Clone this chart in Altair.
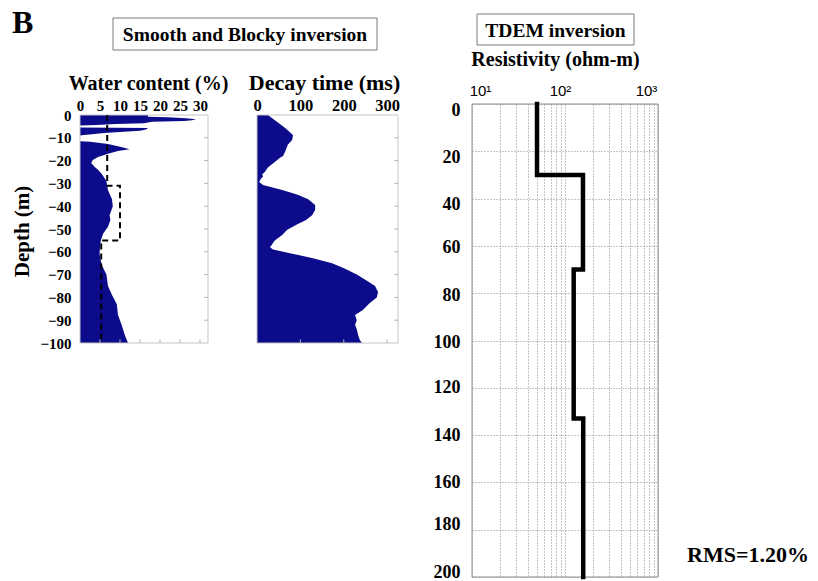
import altair as alt
import pandas as pd

SERIF = "Liberation Serif"
SANS = "Liberation Sans"
NAVY = "#0b0b8c"

# ---- Smooth inversion: water content (%) vs depth (m, negative downwards)
wc_depth = [0, -0.8, -1.0, -1.4, -1.9, -2.3, -2.6, -3.0, -3.6, -4.0, -4.4, -4.6,
            -5.5, -5.7, -6.4, -6.9, -7.4, -7.9, -8.4, -8.8, -9.0,
            -11.5, -11.7, -12.7, -14, -15, -15.8, -17, -18.4, -19.7, -21, -22.8,
            -24, -26, -29, -33, -37, -40, -42, -44, -46, -49, -52, -55, -58, -61,
            -64, -66, -70, -75, -79, -83, -87.7, -92, -96.5, -100]
wc_value = [17, 17, 22, 26.5, 29, 28, 26, 18, 16, 9, 4, 0,
            0, 17, 16.5, 15, 11, 6, 3, 1, 0,
            0, 2.5, 7, 10.3, 12.4, 9.5, 7, 4.5, 3.2, 2.8, 3.7,
            4.5, 5.5, 6.6, 7, 8, 8.2, 7.8, 7.4, 7.6, 7, 5.8, 5.2, 5, 4.9,
            5.2, 5.5, 6.6, 7, 8, 9.2, 9.5, 10.4, 11.2, 12]

# ---- Blocky inversion: layered water content (dashed)
blk_depth = [0, -31, -31, -55, -55, -100]
blk_value = [6.8, 6.8, 10, 10, 5.3, 5.3]

# ---- Decay time (ms) vs depth
dt_depth = [0, -3, -5.7, -8.8, -11, -13, -16, -18, -18.8, -20.6, -23, -25, -26,
            -27, -28, -29.4, -30.7, -33, -35, -37, -39.5, -41.7, -44, -46, -48,
            -50.4, -52.6, -55, -58, -59, -60.6, -62.8, -65, -67, -70, -73, -75,
            -77.6, -80, -82.5, -85.5, -87.7, -90, -92, -94, -96.5, -98.7, -100]
dt_value = [25, 46, 65, 83, 81, 71, 65, 60, 53, 41, 25, 18, 12,
            14, 9, 5, 14, 60, 94, 118, 134, 134, 127, 113, 92,
            69, 58, 41, 30, 37, 76, 129, 173, 198, 230, 256, 272,
            279, 276, 260, 244, 226, 230, 226, 230, 233, 237, 242]

# ---- TDEM layered resistivity model (ohm-m) vs depth (m)
res_depth = [0, 30, 30, 70, 70, 133, 133, 200]
res_value = [50, 50, 156, 156, 124, 124, 157, 157]

# axis tick values
wc_ticks = [0, 5, 10, 15, 20, 25, 30]
dt_ticks = [0, 100, 200, 300]
depth_ticks = [0, -10, -20, -30, -40, -50, -60, -70, -80, -90, -100]
inner_depth_ticks = [-10, -20, -30, -40, -50, -60, -70, -80, -90]
res_ticks = [10, 20, 30, 40, 50, 60, 70, 80, 90, 100, 200, 300, 400, 500, 600,
             700, 800, 900, 1000]
tdem_depth_ticks = [0, 20, 40, 60, 80, 100, 120, 140, 160, 180, 200]

WC_MAX, DT_MAX = 32, 325


def panel_frame(x0, x1, y0, y1):
    return {"kind": "frame", "v": x0, "v2": x1, "d": y0, "d2": y1, "i": 0}


def inner_ticks(x_max, x_len, x_ticks, y_len):
    """Small box ticks pointing inwards from the right and bottom edges."""
    right = pd.DataFrame({"kind": "rtick", "v": x_max, "v2": x_max - x_len,
                          "d": inner_depth_ticks})
    bottom = pd.DataFrame({"kind": "btick", "v": x_ticks, "d": -100,
                           "d2": -100 + y_len})
    return [right, bottom]


wc_df = pd.concat([
    pd.DataFrame({"kind": "area", "v": wc_value, "d": wc_depth,
                  "i": range(len(wc_depth))}),
    pd.DataFrame({"kind": "block", "v": blk_value, "d": blk_depth,
                  "i": range(len(blk_depth))}),
    pd.DataFrame([panel_frame(0, WC_MAX, 0, -100)]),
    *inner_ticks(WC_MAX, 1.0, wc_ticks[1:], 1.6),
], ignore_index=True)

dt_df = pd.concat([
    pd.DataFrame({"kind": "area", "v": dt_value, "d": dt_depth,
                  "i": range(len(dt_depth))}),
    pd.DataFrame([panel_frame(0, DT_MAX, 0, -100)]),
    *inner_ticks(DT_MAX, 9.0, dt_ticks[1:], 1.6),
], ignore_index=True)

res_df = pd.concat([
    pd.DataFrame({"kind": "line", "v": res_value, "d": res_depth,
                  "i": range(len(res_depth))}),
    pd.DataFrame([panel_frame(10, 1000, 0, 200)]),
], ignore_index=True)


def top_axis(label_size, title_size):
    return dict(domain=False, ticks=False, tickSize=0, grid=False,
                labelFont=SERIF, labelFontWeight="bold", labelFontSize=label_size,
                labelColor="black", labelBaseline="alphabetic", labelPadding=5,
                labelFlush=False, labelOverlap=False,
                titleFont=SERIF, titleFontWeight="bold", titleFontSize=title_size,
                titleColor="black", titleAlign="center",
                titleBaseline="alphabetic")


def box_layers(base):
    """Area fill, light frame and inward ticks shared by the two left panels."""
    return [
        base.transform_filter(alt.datum.kind == "area")
        .mark_area(orient="horizontal", color=NAVY),
        base.transform_filter(alt.datum.kind == "frame")
        .mark_rect(fill=None, stroke="#c4c4c4", strokeWidth=1)
        .encode(x2="v2:Q", y2="d2:Q"),
        base.transform_filter(alt.datum.kind == "rtick")
        .mark_rule(color="#b4b4b4", strokeWidth=1)
        .encode(x2="v2:Q"),
        base.transform_filter(alt.datum.kind == "btick")
        .mark_rule(color="#b4b4b4", strokeWidth=1)
        .encode(y2="d2:Q"),
    ]


# ---------------- water content panel
wc_x = alt.X("v:Q",
             scale=alt.Scale(domain=[0, WC_MAX], range=[80, 208], nice=False, zero=False),
             axis=alt.Axis(orient="top", offset=-115, values=wc_ticks,
                           title="Water content (%)", titleX=148, titleY=-26,
                           **top_axis(15, 20)))
wc_y = alt.Y("d:Q",
             scale=alt.Scale(domain=[-100, 0], range=[343, 115], nice=False, zero=False),
             axis=alt.Axis(orient="left", offset=-80, values=depth_ticks,
                           domain=False, ticks=False, tickSize=0, grid=False,
                           labelFont=SERIF, labelFontWeight="bold", labelFontSize=15,
                           labelColor="black", labelPadding=9, labelBaseline="middle",
                           labelFlush=False, labelOverlap=False,
                           title="Depth (m)", titleFont=SERIF, titleFontWeight="bold",
                           titleFontSize=21, titleColor="black", titleAngle=270,
                           titleAlign="center", titleBaseline="alphabetic",
                           titleX=-51.5, titleY=231))
wc_base = alt.Chart(wc_df).encode(x=wc_x, y=wc_y)
wc_panel = alt.layer(
    *box_layers(wc_base),
    wc_base.transform_filter(alt.datum.kind == "block")
    .mark_line(color="black", strokeWidth=2, strokeDash=[6, 4])
    .encode(order="i:Q"),
)

# ---------------- decay time panel
dt_x = alt.X("v:Q",
             scale=alt.Scale(domain=[0, DT_MAX], range=[257, 398], nice=False, zero=False),
             axis=alt.Axis(orient="top", offset=-115, values=dt_ticks,
                           title="Decay time (ms)", titleX=324, titleY=-26,
                           **top_axis(16.5, 22)))
dt_y = alt.Y("d:Q",
             scale=alt.Scale(domain=[-100, 0], range=[343, 115], nice=False, zero=False),
             axis=None)
dt_base = alt.Chart(dt_df).encode(x=dt_x, y=dt_y)
dt_panel = alt.layer(*box_layers(dt_base))

# ---------------- TDEM resistivity panel
res_x = alt.X("v:Q",
              scale=alt.Scale(type="log", domain=[10, 1000], range=[472, 658], nice=False),
              axis=alt.Axis(orient="top", offset=-104, values=res_ticks,
                            labelExpr="datum.value == 10 ? '10¹' : datum.value == 100 ? '10²' : datum.value == 1000 ? '10³' : ''",
                            labelOffset={"condition": [{"test": "datum.value == 10", "value": 8},
                                                       {"test": "datum.value == 100", "value": -5}],
                                         "value": -12},
                            domain=False, ticks=False, tickSize=0,
                            grid=True, gridColor="#8a8a8a", gridDash=[1, 2], gridWidth=1,
                            labelFont=SANS, labelFontSize=15, labelColor="black",
                            labelBaseline="alphabetic", labelPadding=9,
                            labelFlush=False, labelOverlap=False,
                            title="Resistivity (ohm-m)", titleFont=SERIF,
                            titleFontWeight="bold", titleFontSize=20, titleColor="black",
                            titleAlign="center", titleBaseline="alphabetic",
                            titleX=555, titleY=-39))
res_y = alt.Y("d:Q",
              scale=alt.Scale(domain=[0, 200], range=[104, 577], nice=False, zero=False),
              axis=alt.Axis(orient="left", offset=-472, values=tdem_depth_ticks,
                            labelOffset={"condition": [{"test": "datum.value < 50", "value": 6},
                                                       {"test": "datum.value < 110", "value": 2},
                                                       {"test": "datum.value < 170", "value": 0}],
                                         "value": -5},
                            domain=False, ticks=False, tickSize=0,
                            grid=True, gridColor="#8a8a8a", gridDash=[1, 2], gridWidth=1,
                            labelFont=SERIF, labelFontWeight="bold", labelFontSize=18,
                            labelColor="black", labelPadding=12, labelBaseline="middle",
                            labelFlush=False, labelOverlap=False, title=None))
res_base = alt.Chart(res_df).encode(x=res_x, y=res_y)
res_panel = alt.layer(
    res_base.transform_filter(alt.datum.kind == "frame")
    .mark_rect(fill=None, stroke="#8c8c8c", strokeWidth=1)
    .encode(x2="v2:Q", y2="d2:Q"),
    res_base.transform_filter(alt.datum.kind == "line")
    .mark_line(color="black", strokeWidth=4.5, strokeJoin="miter", strokeCap="square")
    .encode(order="i:Q"),
)

# ---------------- headings and annotations
one = pd.DataFrame({"a": [0]})


def box(x0, x1, y0, y1):
    return alt.Chart(one).mark_rect(fill="white", stroke="#7a7a7a", strokeWidth=1).encode(
        x=alt.value(x0), x2=alt.value(x1), y=alt.value(y0), y2=alt.value(y1))


def label(text, x, y, size, align="left"):
    return alt.Chart(one).mark_text(
        text=text, align=align, baseline="alphabetic", font=SERIF,
        fontWeight="bold", fontSize=size, color="black").encode(
        x=alt.value(x), y=alt.value(y))


notes = alt.layer(
    box(113, 377, 18, 50),
    box(477, 634, 14, 45),
    label("Smooth and Blocky inversion", 245, 41, 19.5, "center"),
    label("TDEM inversion", 555.5, 37, 19.5, "center"),
    label("B", 12, 33, 32),
    label("RMS=1.20%", 687, 562, 22),
)

chart = alt.layer(
    wc_panel, dt_panel, res_panel, notes
).resolve_scale(
    x="independent", y="independent"
).properties(
    width=818, height=581, padding=0,
    autosize=alt.AutoSizeParams(type="none"),
    background="white",
).configure_view(stroke=None)

chart.save("out.html", embed_options={"renderer": "svg", "actions": False})
